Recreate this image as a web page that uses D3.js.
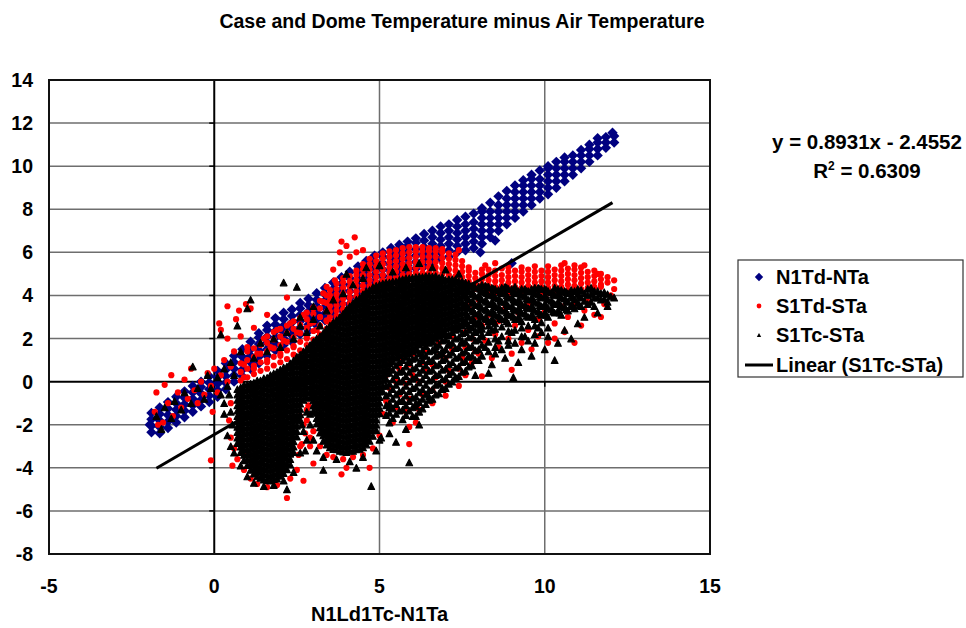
<!DOCTYPE html>
<html><head><meta charset="utf-8">
<script src="https://cdn.jsdelivr.net/npm/d3@7"></script>
<style>
body{margin:0;background:#fff;}
text{font-family:"Liberation Sans",Arial,sans-serif;font-weight:bold;fill:#000;}
</style></head><body>
<svg id="chart" width="966" height="628"></svg>
<script>
const chartTitle = "Case and Dome Temperature minus Air Temperature";
const xAxisTitle = "N1Ld1Tc-N1Ta";
const xTicks = [-5, 0, 5, 10, 15];
const yTicks = [14, 12, 10, 8, 6, 4, 2, 0, -2, -4, -6, -8];
const seriesNames = ["N1Td-NTa", "S1Td-STa", "S1Tc-STa", "Linear (S1Tc-STa)"];
const trendSlope = 0.8931, trendIntercept = -2.4552, trendR2 = 0.6309;
const trendXRange = [-1.75, 12.05];

// Dense parts stored as columns: [x, y1, y2, ...]; sparse parts as [x, y] pairs.
const n1tdCols = [
[-1.9,-2.35,-2.05,-1.75,-1.45],[-1.65,-2.4,-2.1,-1.8,-1.5,-1.2],[-1.4,-2.15,-1.85,-1.55,-1.25,-0.95],
[-1.15,-1.9,-1.6,-1.3,-1.0,-0.7],[-0.9,-1.65,-1.35,-1.05,-0.75,-0.45],[-0.65,-1.4,-1.1,-0.8,-0.5,-0.2],
[-0.4,-1.15,-0.85,-0.55,-0.25,0.0],[-0.15,-0.95,-0.65,-0.35,-0.05,0.25],[0.1,-0.7,-0.4,-0.1,0.2,0.5],
[0.35,-0.35,-0.05,0.25,0.55,0.85],[0.6,0.0,0.3,0.6,0.9,1.2],[0.85,0.25,0.55,0.85,1.15,1.5],
[1.1,0.6,0.9,1.2,1.5,1.85],[1.35,0.85,1.15,1.45,1.75,2.05,2.25],[1.6,1.2,1.5,1.8,2.1,2.4,2.6],
[1.85,1.45,1.75,2.05,2.35,2.65,2.95],[2.1,1.7,2.0,2.3,2.6,2.9,3.2],[2.35,1.85,2.15,2.45,2.75,3.05,3.35],
[2.6,2.2,2.5,2.8,3.1,3.4,3.65],[2.85,2.35,2.65,2.95,3.25,3.55,3.85],[3.1,2.6,2.9,3.2,3.5,3.8,4.1],
[3.35,2.85,3.15,3.45,3.75,4.05,4.35],[3.6,3.1,3.4,3.7,4.0,4.3,4.6],[3.85,3.35,3.65,3.95,4.25,4.55,4.85],
[4.1,3.6,3.9,4.2,4.5,4.8,5.1],[4.35,3.85,4.15,4.45,4.75,5.05,5.35],[4.6,4.1,4.4,4.7,5.0,5.3,5.6],
[4.85,4.35,4.65,4.95,5.25,5.55,5.85],[5.1,4.6,4.9,5.2,5.5,5.8,6.0],[5.35,4.8,5.1,5.4,5.7,6.0,6.2],
[5.6,5.0,5.3,5.6,5.9,6.2,6.35],[5.85,5.1,5.4,5.7,6.0,6.3,6.5],[6.1,5.25,5.55,5.85,6.15,6.45,6.65],
[6.35,5.35,5.65,5.95,6.25,6.55,6.85],[6.6,5.5,5.8,6.1,6.4,6.7,7.0],[6.85,5.7,6.0,6.3,6.6,6.9,7.2],
[7.1,5.8,6.1,6.4,6.7,7.0,7.3],[7.35,6.0,6.3,6.6,6.9,7.2,7.5],[7.6,6.1,6.4,6.7,7.0,7.3,7.65],
[7.85,6.2,6.5,6.8,7.1,7.4,7.8],[8.1,6.4,6.7,7.0,7.3,7.6,7.9,8.05],[8.35,6.7,7.0,7.3,7.6,7.9,8.3],
[8.6,7.0,7.3,7.6,7.9,8.2,8.6],[8.85,7.3,7.6,7.9,8.2,8.5,8.85],[9.1,7.6,7.9,8.2,8.5,8.8,9.1],
[9.35,7.9,8.2,8.5,8.8,9.1,9.35],[9.6,8.2,8.5,8.8,9.1,9.4,9.6],[9.85,8.5,8.8,9.1,9.4,9.8],
[10.1,8.7,9.0,9.3,9.6,9.9,10.0],[10.35,9.0,9.3,9.6,9.9,10.2],[10.6,9.3,9.6,9.9,10.2,10.4],
[10.85,9.6,9.9,10.2,10.5],[11.1,9.9,10.2,10.5,10.75],[11.35,10.2,10.5,10.8,11.0],
[11.6,10.5,10.8,11.1,11.3],[11.85,10.85,11.1,11.35],[12.1,11.1,11.4]
];
const n1tdPts = [[8.5,6.55],[8.05,6.0],[9.0,5.5],[-1.95,-2.0],[12.05,11.55]];

const s1tdCols = [
[0.8,0.05,0.45,0.85],[1.0,0.2,0.6,1.0,1.4],[1.2,0.35,0.75,1.15,1.55],[1.4,0.5,0.9,1.3,1.7],
[1.6,0.6,1.0,1.4,1.8,2.1],[1.8,0.75,1.15,1.55,1.95,2.3],[2.0,0.9,1.3,1.7,2.1,2.45],
[2.2,1.05,1.45,1.85,2.25,2.6],[2.4,1.25,1.65,2.05,2.45,2.8],[2.6,1.45,1.85,2.25,2.65,2.95],
[2.8,1.7,2.1,2.5,2.9,3.2],[3.0,1.95,2.35,2.75,3.15,3.45],[3.2,2.2,2.6,3.0,3.4,3.75],
[3.4,2.45,2.85,3.25,3.65,4.0],
[3.5,2.5,2.75,3.0,3.25,3.5,3.75,4.0,4.25],[3.7,2.8,3.05,3.3,3.55,3.8,4.05,4.3,4.55],
[3.9,3.1,3.35,3.6,3.85,4.1,4.35,4.6,4.8],[4.1,3.4,3.65,3.9,4.15,4.4,4.65,4.9],
[4.3,3.7,3.95,4.2,4.45,4.7,4.95,5.15],[4.5,3.95,4.2,4.45,4.7,4.95,5.2,5.45],
[4.7,4.2,4.45,4.7,4.95,5.2,5.45,5.7],[4.9,4.35,4.6,4.85,5.1,5.35,5.6,5.85],
[5.1,4.45,4.7,4.95,5.2,5.45,5.7,5.95],[5.3,4.55,4.8,5.05,5.3,5.55,5.8,6.05],
[5.5,4.6,4.85,5.1,5.35,5.6,5.85,6.1],[5.7,4.7,4.95,5.2,5.45,5.7,5.95,6.2],
[5.9,4.75,5.0,5.25,5.5,5.75,6.0,6.25],[6.1,4.8,5.05,5.3,5.55,5.8,6.05,6.25],
[6.3,4.8,5.05,5.3,5.55,5.8,6.05,6.25],[6.5,4.8,5.05,5.3,5.55,5.8,6.05,6.2],
[6.7,4.8,5.05,5.3,5.55,5.8,6.05,6.2],[6.9,4.75,5.0,5.25,5.5,5.75,6.0,6.15],
[7.1,4.7,4.95,5.2,5.45,5.7,5.95],[7.3,4.65,4.9,5.15,5.4,5.65,5.9],[7.5,4.6,4.85,5.1,5.35,5.6],
[7.7,4.4,4.65,4.9,5.15],[7.9,4.3,4.55,4.8,5.05],[8.1,4.25,4.5,4.75,5.0,5.2],
[8.3,4.2,4.45,4.7,4.95,5.2],[8.5,4.15,4.4,4.65,4.9,5.15],[8.7,4.2,4.45,4.7,4.95,5.25],
[8.9,4.1,4.35,4.6,4.85,5.1,5.3],[9.1,4.15,4.4,4.65,4.9,5.15],[9.3,4.1,4.35,4.6,4.85,5.1,5.3],
[9.5,4.2,4.45,4.7,4.95,5.2],[9.7,4.1,4.35,4.6,4.85,5.1,5.35],[9.9,4.15,4.4,4.65,4.9,5.15],
[10.1,4.1,4.35,4.6,4.85,5.1,5.35],[10.3,4.2,4.45,4.7,4.95,5.2],[10.5,4.15,4.4,4.65,4.9,5.15,5.4],
[10.7,4.25,4.5,4.75,5.0,5.25],[10.9,4.2,4.45,4.7,4.95,5.2,5.4],[11.1,4.3,4.55,4.8,5.05,5.3],
[11.3,4.35,4.6,4.85,5.1],[11.5,4.4,4.65,4.9,5.15],[11.7,4.5,4.75,5.0],[11.9,4.6,4.85],[12.1,4.7]
];
const s1tdPts = [
[-1.8,-1.4],[-1.75,-0.5],[-1.7,-2.0],[-1.5,-0.15],[-1.55,-1.9],[-1.4,-1.0],[-1.3,0.3],[-1.25,-1.6],
[-1.1,-0.5],[-1.0,-1.2],[-0.9,0.1],[-0.8,-0.8],[-0.7,0.6],[-0.6,-0.4],[-0.5,-1.0],[-0.4,0.0],
[-0.3,-0.6],[-0.2,0.4],[-0.1,-0.2],[0.0,0.6],[0.1,-0.5],[0.2,0.3],[0.3,1.0],[0.4,0.0],[0.5,0.7],
[0.15,2.7],[0.4,3.5],[0.75,3.3],[0.96,3.6],[1.1,3.4],[0.66,2.9],[0.2,2.4],[0.4,2.0],[0.8,2.1],
[1.2,2.5],[1.6,3.1],[2.2,3.9],[0.6,1.4],[0.9,0.8],[1.0,1.6],[1.2,0.6],[1.3,1.3],[1.5,2.0],
[1.6,0.9],[1.7,1.6],[1.9,2.4],[2.0,1.2],[2.1,1.9],[2.3,2.7],[2.4,1.6],[2.5,2.3],[2.7,3.1],
[2.8,2.0],[2.9,2.7],[3.0,3.4],[3.1,2.4],[3.2,3.0],[3.3,3.7],[3.4,2.8],[3.3,4.1],[1.1,-0.4],
[0.9,0.2],[3.4,4.4],[3.65,4.7],
[3.85,6.5],[4.25,6.7],[4.0,6.3],[4.3,6.0],[4.5,6.1],[3.8,5.5],[3.6,5.2],[4.1,5.8],[3.8,6.0],
[0.5,-1.0],[0.45,-1.8],[0.5,-2.6],[0.6,-3.1],[0.7,-3.6],[0.9,-4.1],[1.1,-4.5],[1.3,-4.75],
[1.6,-4.9],[1.9,-4.8],[2.2,-5.4],[2.3,-4.5],[2.5,-4.1],[2.6,-3.0],[2.7,-2.0],[2.8,-1.3],
[2.9,-2.6],[3.0,-2.3],[3.2,-3.0],[3.4,-3.4],[3.6,-3.5],[3.9,-3.6],[4.2,-3.5],[4.5,-3.4],
[4.8,-3.1],[5.0,-2.5],[5.9,-2.1],[4.0,-4.0],[3.0,-3.8],[1.0,-3.4],[-0.05,-1.4],[-0.1,-3.65],
[5.9,-2.9],[4.7,-4.0],[3.85,-4.3],[2.7,-4.6],[0.55,-3.9],
[2.6,-1.6],[2.75,-2.4],[2.85,-1.1],[2.65,-2.9],[2.9,-3.0],[2.8,-1.8],[2.55,-3.4],
[5.1,-1.5],[5.2,-0.9],[5.3,-0.3],[5.2,0.3],[5.35,0.9],[5.4,-1.9],[5.5,-1.2],[5.6,-0.6],
[5.5,0.0],[5.6,0.6],[5.7,1.1],[5.8,-1.4],[5.9,-0.8],[5.8,-0.1],[6.0,0.3],[5.9,0.8],[6.0,1.3],
[6.1,-1.9],[6.2,-1.3],[6.3,-0.6],[6.2,0.0],[6.4,0.5],[6.3,0.9],[6.4,1.5],[6.6,-1.0],[6.6,-0.4],
[6.7,0.2],[6.6,0.8],[6.8,1.2],[6.8,1.8],[7.0,-0.65],[7.0,0.0],[7.1,0.5],[7.0,1.1],[7.2,1.5],
[7.2,2.1],[7.4,-0.2],[7.4,0.6],[7.5,1.1],[7.6,1.6],[7.6,2.3],[7.8,0.9],[7.8,2.0],[7.9,1.4],
[7.6,0.3],[8.1,0.25],[8.0,1.3],[8.2,1.9],[8.1,2.6],[8.3,3.1],[8.4,1.1],[8.5,2.2],[8.6,2.8],
[8.6,1.6],[8.8,3.4],[8.9,2.0],[9.0,0.55],[9.0,1.3],[9.1,2.6],[9.2,3.2],[9.3,1.8],[9.5,2.4],
[9.5,3.6],[9.6,1.5],[9.8,2.9],[9.8,2.1],[10.0,3.3],[10.1,1.8],[10.3,2.0],[10.3,2.7],[10.5,3.5],
[10.6,2.3],[10.7,3.0],[10.9,1.8],[10.9,3.6],[11.1,2.6],[11.2,3.3],[11.3,3.7],[11.5,3.1],
[11.7,3.0],[11.8,3.6],[12.0,4.0],[11.7,4.4],[12.1,4.3],[10.6,5.5],[11.2,5.4],[11.6,5.0],
[7.7,3.5],[7.9,3.0],[8.0,3.8],[7.7,5.3],[8.2,5.4],[8.5,5.5],[7.4,6.1]
];

const s1tcCols = [
[0.7,-2.85,-2.6,-2.35,-2.1,-1.85,-1.6,-1.35,-1.1,-0.85,-0.6,-0.35],
[0.8,-3.27,-3.02,-2.77,-2.52,-2.27,-2.02,-1.77,-1.52,-1.27,-1.02,-0.77,-0.52,-0.27],
[0.9,-3.65,-3.4,-3.15,-2.9,-2.65,-2.4,-2.15,-1.9,-1.65,-1.4,-1.15,-0.9,-0.65,-0.4,-0.15],
[1.0,-3.88,-3.63,-3.38,-3.13,-2.88,-2.63,-2.38,-2.13,-1.88,-1.63,-1.38,-1.13,-0.88,-0.63,-0.38,-0.13],
[1.1,-4.1,-3.85,-3.6,-3.35,-3.1,-2.85,-2.6,-2.35,-2.1,-1.85,-1.6,-1.35,-1.1,-0.85,-0.6,-0.35,-0.1],
[1.2,-4.27,-4.02,-3.77,-3.52,-3.27,-3.02,-2.77,-2.52,-2.27,-2.02,-1.77,-1.52,-1.27,-1.02,-0.77,-0.52,-0.27,-0.05],
[1.3,-4.4,-4.15,-3.9,-3.65,-3.4,-3.15,-2.9,-2.65,-2.4,-2.15,-1.9,-1.65,-1.4,-1.15,-0.9,-0.65,-0.4,-0.15,0.05],
[1.4,-4.47,-4.22,-3.97,-3.72,-3.47,-3.22,-2.97,-2.72,-2.47,-2.22,-1.97,-1.72,-1.47,-1.22,-0.97,-0.72,-0.47,-0.22,0.05],
[1.5,-4.55,-4.3,-4.05,-3.8,-3.55,-3.3,-3.05,-2.8,-2.55,-2.3,-2.05,-1.8,-1.55,-1.3,-1.05,-0.8,-0.55,-0.3,-0.05,0.15],
[1.6,-4.57,-4.32,-4.07,-3.82,-3.57,-3.32,-3.07,-2.82,-2.57,-2.32,-2.07,-1.82,-1.57,-1.32,-1.07,-0.82,-0.57,-0.32,-0.07,0.18],
[1.7,-4.6,-4.35,-4.1,-3.85,-3.6,-3.35,-3.1,-2.85,-2.6,-2.35,-2.1,-1.85,-1.6,-1.35,-1.1,-0.85,-0.6,-0.35,-0.1,0.15,0.3],
[1.8,-4.53,-4.28,-4.03,-3.78,-3.53,-3.28,-3.03,-2.78,-2.53,-2.28,-2.03,-1.78,-1.53,-1.28,-1.03,-0.78,-0.53,-0.28,-0.03,0.22,0.38],
[1.9,-4.5,-4.25,-4.0,-3.75,-3.5,-3.25,-3.0,-2.75,-2.5,-2.25,-2.0,-1.75,-1.5,-1.25,-1.0,-0.75,-0.5,-0.25,0.0,0.25,0.45],
[2.0,-4.37,-4.12,-3.87,-3.62,-3.37,-3.12,-2.87,-2.62,-2.37,-2.12,-1.87,-1.62,-1.37,-1.12,-0.87,-0.62,-0.37,-0.12,0.13,0.38,0.55],
[2.1,-4.25,-4.0,-3.75,-3.5,-3.25,-3.0,-2.75,-2.5,-2.25,-2.0,-1.75,-1.5,-1.25,-1.0,-0.75,-0.5,-0.25,0.0,0.25,0.5,0.65],
[2.2,-4.07,-3.82,-3.57,-3.32,-3.07,-2.82,-2.57,-2.32,-2.07,-1.82,-1.57,-1.32,-1.07,-0.82,-0.57,-0.32,-0.07,0.18,0.43,0.7],
[2.3,-3.85,-3.6,-3.35,-3.1,-2.85,-2.6,-2.35,-2.1,-1.85,-1.6,-1.35,-1.1,-0.85,-0.6,-0.35,-0.1,0.15,0.4,0.65,0.85],
[2.4,-3.27,-3.02,-2.77,-2.52,-2.27,-2.02,-1.77,-1.52,-1.27,-1.02,-0.77,-0.52,-0.27,-0.02,0.23,0.48,0.73,0.98],
[2.5,-2.55,-2.3,-2.05,-1.8,-1.55,-1.3,-1.05,-0.8,-0.55,-0.3,-0.05,0.2,0.45,0.7,0.95,1.15],
[2.6,-1.77,-1.52,-1.27,-1.02,-0.77,-0.52,-0.27,-0.02,0.23,0.48,0.73,0.98,1.25],
[2.7,-0.85,-0.6,-0.35,-0.1,0.15,0.4,0.65,0.9,1.15,1.4],
[2.8,-0.73,-0.48,-0.23,0.02,0.27,0.52,0.77,1.02,1.27,1.52],
[2.9,-0.75,-0.5,-0.25,0.0,0.25,0.5,0.75,1.0,1.25,1.5,1.7],
[3.0,-1.37,-1.12,-0.87,-0.62,-0.37,-0.12,0.13,0.38,0.63,0.88,1.13,1.38,1.63,1.85],
[3.1,-1.95,-1.7,-1.45,-1.2,-0.95,-0.7,-0.45,-0.2,0.05,0.3,0.55,0.8,1.05,1.3,1.55,1.8,2.0],
[3.2,-2.37,-2.12,-1.87,-1.62,-1.37,-1.12,-0.87,-0.62,-0.37,-0.12,0.13,0.38,0.63,0.88,1.13,1.38,1.63,1.88,2.1],
[3.3,-2.75,-2.5,-2.25,-2.0,-1.75,-1.5,-1.25,-1.0,-0.75,-0.5,-0.25,0.0,0.25,0.5,0.75,1.0,1.25,1.5,1.75,2.0,2.25],
[3.4,-2.93,-2.68,-2.43,-2.18,-1.93,-1.68,-1.43,-1.18,-0.93,-0.68,-0.43,-0.18,0.07,0.32,0.57,0.82,1.07,1.32,1.57,1.82,2.07,2.32,2.45],
[3.5,-3.05,-2.8,-2.55,-2.3,-2.05,-1.8,-1.55,-1.3,-1.05,-0.8,-0.55,-0.3,-0.05,0.2,0.45,0.7,0.95,1.2,1.45,1.7,1.95,2.2,2.45,2.6],
[3.6,-3.13,-2.88,-2.63,-2.38,-2.13,-1.88,-1.63,-1.38,-1.13,-0.88,-0.63,-0.38,-0.13,0.12,0.37,0.62,0.87,1.12,1.37,1.62,1.87,2.12,2.37,2.62,2.75],
[3.7,-3.15,-2.9,-2.65,-2.4,-2.15,-1.9,-1.65,-1.4,-1.15,-0.9,-0.65,-0.4,-0.15,0.1,0.35,0.6,0.85,1.1,1.35,1.6,1.85,2.1,2.35,2.6,2.85],
[3.8,-3.22,-2.97,-2.72,-2.47,-2.22,-1.97,-1.72,-1.47,-1.22,-0.97,-0.72,-0.47,-0.22,0.03,0.28,0.53,0.78,1.03,1.28,1.53,1.78,2.03,2.28,2.53,2.78,3.0],
[3.9,-3.25,-3.0,-2.75,-2.5,-2.25,-2.0,-1.75,-1.5,-1.25,-1.0,-0.75,-0.5,-0.25,0.0,0.25,0.5,0.75,1.0,1.25,1.5,1.75,2.0,2.25,2.5,2.75,3.0,3.15],
[4.0,-3.27,-3.02,-2.77,-2.52,-2.27,-2.02,-1.77,-1.52,-1.27,-1.02,-0.77,-0.52,-0.27,-0.02,0.23,0.48,0.73,0.98,1.23,1.48,1.73,1.98,2.23,2.48,2.73,2.98,3.23,3.35],
[4.1,-3.2,-2.95,-2.7,-2.45,-2.2,-1.95,-1.7,-1.45,-1.2,-0.95,-0.7,-0.45,-0.2,0.05,0.3,0.55,0.8,1.05,1.3,1.55,1.8,2.05,2.3,2.55,2.8,3.05,3.3,3.5],
[4.2,-3.22,-2.97,-2.72,-2.47,-2.22,-1.97,-1.72,-1.47,-1.22,-0.97,-0.72,-0.47,-0.22,0.03,0.28,0.53,0.78,1.03,1.28,1.53,1.78,2.03,2.28,2.53,2.78,3.03,3.28,3.53,3.65],
[4.3,-3.15,-2.9,-2.65,-2.4,-2.15,-1.9,-1.65,-1.4,-1.15,-0.9,-0.65,-0.4,-0.15,0.1,0.35,0.6,0.85,1.1,1.35,1.6,1.85,2.1,2.35,2.6,2.85,3.1,3.35,3.6,3.8],
[4.4,-3.12,-2.87,-2.62,-2.37,-2.12,-1.87,-1.62,-1.37,-1.12,-0.87,-0.62,-0.37,-0.12,0.13,0.38,0.63,0.88,1.13,1.38,1.63,1.88,2.13,2.38,2.63,2.88,3.13,3.38,3.63,3.88],
[4.5,-3.05,-2.8,-2.55,-2.3,-2.05,-1.8,-1.55,-1.3,-1.05,-0.8,-0.55,-0.3,-0.05,0.2,0.45,0.7,0.95,1.2,1.45,1.7,1.95,2.2,2.45,2.7,2.95,3.2,3.45,3.7,3.95,4.05],
[4.6,-2.92,-2.67,-2.42,-2.17,-1.92,-1.67,-1.42,-1.17,-0.92,-0.67,-0.42,-0.17,0.08,0.33,0.58,0.83,1.08,1.33,1.58,1.83,2.08,2.33,2.58,2.83,3.08,3.33,3.58,3.83,4.08,4.18],
[4.7,-2.75,-2.5,-2.25,-2.0,-1.75,-1.5,-1.25,-1.0,-0.75,-0.5,-0.25,0.0,0.25,0.5,0.75,1.0,1.25,1.5,1.75,2.0,2.25,2.5,2.75,3.0,3.25,3.5,3.75,4.0,4.25],
[4.8,-2.52,-2.27,-2.02,-1.77,-1.52,-1.27,-1.02,-0.77,-0.52,-0.27,-0.02,0.23,0.48,0.73,0.98,1.23,1.48,1.73,1.98,2.23,2.48,2.73,2.98,3.23,3.48,3.73,3.98,4.23,4.38],
[4.9,-2.25,-2.0,-1.75,-1.5,-1.25,-1.0,-0.75,-0.5,-0.25,0.0,0.25,0.5,0.75,1.0,1.25,1.5,1.75,2.0,2.25,2.5,2.75,3.0,3.25,3.5,3.75,4.0,4.25,4.45],
[5.0,-1.47,-1.22,-0.97,-0.72,-0.47,-0.22,0.03,0.28,0.53,0.78,1.03,1.28,1.53,1.78,2.03,2.28,2.53,2.78,3.03,3.28,3.53,3.78,4.03,4.28,4.5],
[5.1,-0.45,-0.2,0.05,0.3,0.55,0.8,1.05,1.3,1.55,1.8,2.05,2.3,2.55,2.8,3.05,3.3,3.55,3.8,4.05,4.3,4.55],
[5.2,0.13,0.38,0.63,0.88,1.13,1.38,1.63,1.88,2.13,2.38,2.63,2.88,3.13,3.38,3.63,3.88,4.13,4.38,4.6],
[5.3,0.6,0.85,1.1,1.35,1.6,1.85,2.1,2.35,2.6,2.85,3.1,3.35,3.6,3.85,4.1,4.35,4.6],
[5.4,0.93,1.18,1.43,1.68,1.93,2.18,2.43,2.68,2.93,3.18,3.43,3.68,3.93,4.18,4.43,4.65],
[5.5,1.1,1.35,1.6,1.85,2.1,2.35,2.6,2.85,3.1,3.35,3.6,3.85,4.1,4.35,4.65],
[5.6,1.23,1.48,1.73,1.98,2.23,2.48,2.73,2.98,3.23,3.48,3.73,3.98,4.23,4.48,4.72],
[5.7,1.3,1.55,1.8,2.05,2.3,2.55,2.8,3.05,3.3,3.55,3.8,4.05,4.3,4.55,4.75],
[5.8,1.42,1.67,1.92,2.17,2.42,2.67,2.92,3.17,3.42,3.67,3.92,4.17,4.42,4.67,4.8],
[5.9,1.5,1.75,2.0,2.25,2.5,2.75,3.0,3.25,3.5,3.75,4.0,4.25,4.5,4.8],
[6.0,1.57,1.82,2.07,2.32,2.57,2.82,3.07,3.32,3.57,3.82,4.07,4.32,4.57,4.82],
[6.1,1.6,1.85,2.1,2.35,2.6,2.85,3.1,3.35,3.6,3.85,4.1,4.35,4.6,4.85],
[6.2,1.72,1.97,2.22,2.47,2.72,2.97,3.22,3.47,3.72,3.97,4.22,4.47,4.72,4.88],
[6.3,1.8,2.05,2.3,2.55,2.8,3.05,3.3,3.55,3.8,4.05,4.3,4.55,4.85],
[6.4,1.92,2.17,2.42,2.67,2.92,3.17,3.42,3.67,3.92,4.17,4.42,4.67,4.9],
[6.5,2.0,2.25,2.5,2.75,3.0,3.25,3.5,3.75,4.0,4.25,4.5,4.75,4.9],
[6.6,2.12,2.37,2.62,2.87,3.12,3.37,3.62,3.87,4.12,4.37,4.62,4.88],
[6.7,2.2,2.45,2.7,2.95,3.2,3.45,3.7,3.95,4.2,4.45,4.7,4.9],
[6.8,2.32,2.57,2.82,3.07,3.32,3.57,3.82,4.07,4.32,4.57,4.82],
[6.9,2.4,2.65,2.9,3.15,3.4,3.65,3.9,4.15,4.4,4.65,4.85],
[7.0,2.47,2.72,2.97,3.22,3.47,3.72,3.97,4.22,4.47,4.72],
[7.1,2.5,2.75,3.0,3.25,3.5,3.75,4.0,4.25,4.5,4.75],
[7.2,2.57,2.82,3.07,3.32,3.57,3.82,4.07,4.32,4.57,4.75],
[7.3,2.6,2.85,3.1,3.35,3.6,3.85,4.1,4.35,4.6,4.75],
[7.4,2.67,2.92,3.17,3.42,3.67,3.92,4.17,4.42,4.67],
[7.5,2.7,2.95,3.2,3.45,3.7,3.95,4.2,4.45,4.65],
[7.6,2.8,3.2,3.6,4.0,4.4,4.6],[7.7,2.6,3.0,3.4,3.8,4.2,4.55],[7.8,2.9,3.3,3.7,4.1,4.45],
[7.9,2.75,3.15,3.55,3.95,4.35],[8.0,2.8,3.2,3.6,4.0,4.4],[8.1,2.6,3.0,3.4,3.8,4.2,4.5],
[8.2,2.95,3.35,3.75,4.15,4.45],[8.3,2.8,3.2,3.6,4.0,4.4],[8.4,2.9,3.3,3.7,4.1,4.35],
[8.5,2.7,3.1,3.5,3.9,4.3],[8.6,3.05,3.45,3.85,4.25],[8.7,2.9,3.3,3.7,4.1,4.35],
[8.8,2.9,3.3,3.7,4.1,4.4],[8.9,2.7,3.1,3.5,3.9,4.3],[9.0,3.1,3.5,3.9,4.3],
[9.1,2.9,3.3,3.7,4.1,4.4],[9.2,3.0,3.4,3.8,4.2],[9.3,2.8,3.2,3.6,4.0,4.3],
[9.4,3.15,3.55,3.95,4.3],[9.5,3.0,3.4,3.8,4.2],[9.6,3.1,3.5,3.9,4.3],
[9.7,2.9,3.3,3.7,4.1,4.35],[9.8,3.25,3.65,4.05,4.35],[9.9,3.1,3.5,3.9,4.3],
[10.0,3.2,3.6,4.0,4.3],[10.1,3.0,3.4,3.8,4.2],[10.2,3.35,3.75,4.15],[10.3,3.2,3.6,4.0,4.35],
[10.4,3.3,3.7,4.1,4.3],[10.5,3.1,3.5,3.9,4.25],[10.6,3.45,3.85,4.2],[10.7,3.3,3.7,4.1],
[10.8,3.55,3.95,4.25],[10.9,3.4,3.8,4.2],[11.0,3.65,4.05,4.3],[11.1,3.5,3.9,4.25],
[11.2,3.75,4.1],[11.3,3.6,4.0,4.3],[11.4,3.7,4.05,4.35],[11.5,3.5,3.9,4.2],
[11.6,3.9,4.2],[11.7,3.8,4.1],[11.8,3.85,4.15],[11.9,3.7,4.05],[12.0,3.95],
[7.65,2.7,3.1,3.5,3.9,4.3],[7.85,2.85,3.25,3.65,4.05,4.4],[8.05,2.7,3.1,3.5,3.9,4.3],
[8.25,2.9,3.3,3.7,4.1,4.4],[8.45,2.8,3.2,3.6,4.0,4.3],[8.65,2.95,3.35,3.75,4.15],
[8.85,2.8,3.2,3.6,4.0,4.35],[9.05,3.0,3.4,3.8,4.2],[9.25,2.9,3.3,3.7,4.1],
[9.45,3.05,3.45,3.85,4.2],[9.65,3.0,3.4,3.8,4.2],[9.85,3.15,3.55,3.95,4.3],
[10.05,3.1,3.5,3.9,4.25],[10.25,3.25,3.65,4.05],[10.45,3.2,3.6,4.0],[10.65,3.35,3.75,4.15],
[10.85,3.5,3.9],[11.05,3.55,3.95],
[5.2,-1.55,-1.1,-0.65,-0.2],[5.3,-1.9,-1.45,-1.0,-0.55,-0.1,0.4],
[5.4,-1.7,-1.25,-0.8,-0.35,0.1,0.55],[5.5,-1.5,-1.05,-0.6,-0.15,0.3,0.75],
[5.6,-1.35,-0.9,-0.45,0.0,0.45,0.9],[5.7,-1.75,-1.3,-0.85,-0.4,0.05,0.5,1.0],
[5.8,-1.55,-1.1,-0.65,-0.2,0.25,0.7,1.15],[5.9,-1.35,-0.9,-0.45,0.0,0.45,0.9,1.3],
[6.0,-1.2,-0.75,-0.3,0.15,0.6,1.05,1.4],[6.1,-1.6,-1.15,-0.7,-0.25,0.2,0.65,1.1,1.45],
[6.2,-1.4,-0.95,-0.5,-0.05,0.4,0.85,1.3],[6.3,-1.25,-0.8,-0.35,0.1,0.55,1.0,1.45],
[6.4,-1.05,-0.6,-0.15,0.3,0.75,1.2,1.65],[6.5,-0.85,-0.4,0.05,0.5,0.95,1.4,1.8],
[6.6,-0.8,-0.35,0.1,0.55,1.0,1.45,1.85],[6.7,-0.6,-0.15,0.3,0.75,1.2,1.65,2.0],
[6.8,-0.55,-0.1,0.35,0.8,1.25,1.7,2.1],[6.9,-0.35,0.1,0.55,1.0,1.45,1.9,2.2],
[7.0,-0.3,0.15,0.6,1.05,1.5,1.95,2.25],[7.1,-0.1,0.35,0.8,1.25,1.7,2.15],
[7.2,0.0,0.45,0.9,1.35,1.8,2.3],[7.3,0.2,0.65,1.1,1.55,2.0,2.4],
[7.4,0.25,0.7,1.15,1.6,2.05,2.45],[7.5,0.45,0.9,1.35,1.8,2.25,2.6],
[7.6,0.5,0.95,1.4,1.85,2.3],[7.7,0.7,1.15,1.6,2.05,2.4],[7.8,0.75,1.2,1.65,2.1,2.5],
[7.9,1.0,1.45,1.9,2.35,2.65],[8.0,1.5,1.95,2.4],[8.1,1.2,1.7,2.1,2.45],[8.3,1.4,1.85,2.3,2.6],
[8.5,1.6,2.0,2.45],[8.7,1.5,2.1,2.55],[8.9,1.9,2.35],[9.1,1.8,2.4],[9.3,2.1,2.5],
[9.5,1.9,2.6],[9.7,2.2,2.6],[9.9,2.3,2.75],[10.1,2.5]
];
const s1tcPts = [
[-1.75,-1.6],[-1.6,-2.2],[-1.5,-1.2],[-1.3,-1.7],[-1.2,-0.9],[-1.0,-1.3],[-0.9,-0.5],[-0.7,-1.0],
[-0.65,0.7],[-0.5,-0.3],[-0.3,-0.8],[-0.2,0.3],[-0.1,-0.3],[0.1,0.2],[0.2,-0.6],[0.3,0.6],
[0.4,-0.2],[0.5,0.9],[0.6,0.3],[0.2,2.2],[0.7,2.6],[1.0,3.4],[1.1,3.8],[2.1,4.6],[2.5,4.4],
[0.8,1.4],[1.2,1.1],[1.4,1.8],[1.6,1.4],[1.8,2.0],[2.0,1.6],[2.2,2.3],[2.4,2.0],[2.6,2.6],
[2.8,2.3],[3.0,2.9],[3.2,2.6],[3.4,3.3],[3.6,3.8],[3.0,3.5],[2.6,3.0],[3.9,4.1],[4.2,4.5],
[4.5,4.8],[4.0,5.0],[4.6,5.3],[5.0,5.4],[5.4,5.1],[5.8,5.3],[6.2,5.5],[6.6,5.3],[7.0,5.2],
[7.4,5.0],[0.3,-1.5],[0.4,-2.5],[0.5,-3.0],[0.3,-1.0],[0.55,-2.0],[0.5,-1.4],[0.45,-0.6],
[0.6,-3.3],[0.8,-3.9],[1.0,-4.4],[1.2,-4.7],[1.5,-4.85],[1.8,-4.8],[2.1,-4.6],[2.2,-5.0],
[2.4,-4.2],[2.6,-3.3],[2.7,-2.3],[2.8,-1.4],[3.0,-2.7],[3.1,-3.2],[3.3,-3.5],[3.3,-4.1],
[3.7,-3.6],[4.1,-3.7],[4.5,-3.5],[4.75,-4.85],[4.9,-3.2],[5.0,-2.7],[5.9,-3.75],[4.3,-4.0],
[2.9,-2.0],[2.65,-2.0],[2.8,-2.7],[2.9,-1.5],[2.75,-3.2],
[5.3,-1.2],[5.5,0.3],[5.7,-0.9],[5.7,0.5],[5.9,1.0],[5.8,-2.2],[6.0,-1.6],[6.1,-1.0],
[6.3,1.2],[6.5,-0.7],[6.5,1.0],[6.7,1.5],[6.9,-0.3],[6.9,1.3],[7.1,1.8],[7.3,0.2],
[7.5,1.9],[7.7,1.2],[7.9,2.3],[5.05,-2.6],[5.3,-2.4],[6.2,-2.0],[5.5,-2.8],
[8.0,1.0],[8.2,1.6],[8.1,2.2],[8.4,0.8],[8.5,1.3],[8.6,1.9],[8.4,2.4],[8.8,1.1],[8.9,1.7],
[9.0,2.3],[9.2,0.9],[9.3,1.5],[9.4,2.1],[9.6,1.2],[9.7,1.8],[9.8,2.5],[10.0,1.5],[10.1,2.1],
[10.3,1.0],[10.4,1.8],[10.6,2.4],[10.8,2.0],[11.0,2.7],[11.2,3.0],[11.6,3.2],[11.9,3.5],
[12.1,3.9],[9.05,0.2],[8.3,0.4],[7.9,0.3]
];

const W = 966, H = 628;
const plotL = 49, plotR = 710, plotT = 80, plotB = 554;
const svg = d3.select("#chart");
const x = d3.scaleLinear().domain([-5, 15]).range([plotL, plotR]);
const y = d3.scaleLinear().domain([-8, 14]).range([plotB, plotT]);

function expand(cols) {
  const out = [];
  cols.forEach(c => { for (let i = 1; i < c.length; i++) out.push([c[0], c[i]]); });
  return out;
}
const blueData = expand(n1tdCols).concat(n1tdPts);
const redData = expand(s1tdCols).concat(s1tdPts);
const blackData = expand(s1tcCols).concat(s1tcPts);

svg.append("rect").attr("x", 0).attr("y", 0).attr("width", W).attr("height", H).attr("fill", "#fff");

// gridlines
const grid = svg.append("g");
yTicks.filter(v => v !== 14 && v !== -8 && v !== 0).forEach(v => {
  grid.append("line").attr("x1", plotL).attr("x2", plotR).attr("y1", y(v)).attr("y2", y(v))
    .attr("stroke", "#6e6e6e").attr("stroke-width", 1.5);
});
xTicks.filter(v => v !== -5 && v !== 15 && v !== 0).forEach(v => {
  grid.append("line").attr("y1", plotT).attr("y2", plotB).attr("x1", x(v)).attr("x2", x(v))
    .attr("stroke", "#6e6e6e").attr("stroke-width", 1.5);
});

// axes through zero
svg.append("line").attr("x1", x(0)).attr("x2", x(0)).attr("y1", plotT).attr("y2", plotB)
  .attr("stroke", "#000").attr("stroke-width", 2);
svg.append("line").attr("x1", plotL).attr("x2", plotR).attr("y1", y(0)).attr("y2", y(0))
  .attr("stroke", "#000").attr("stroke-width", 2);
yTicks.forEach(v => {
  svg.append("line").attr("x1", x(0) - 5).attr("x2", x(0)).attr("y1", y(v)).attr("y2", y(v))
    .attr("stroke", "#000").attr("stroke-width", 1.5);
});
xTicks.forEach(v => {
  svg.append("line").attr("x1", x(v)).attr("x2", x(v)).attr("y1", y(0)).attr("y2", y(0) + 5)
    .attr("stroke", "#000").attr("stroke-width", 1.5);
});

// border
svg.append("rect").attr("x", plotL).attr("y", plotT).attr("width", plotR - plotL).attr("height", plotB - plotT)
  .attr("fill", "none").attr("stroke", "#111").attr("stroke-width", 2);

// points
const diamond = h => `M0,${-h}L${h},0L0,${h}L${-h},0Z`;
const tri = (b, t) => `M0,${-t}L${b},${t}L${-b},${t}Z`;
const pts = svg.append("g");
pts.selectAll("path.blue").data(blueData).join("path").attr("class", "blue")
  .attr("d", diamond(5.2)).attr("fill", "#000080")
  .attr("transform", d => `translate(${x(d[0])},${y(d[1])})`);
pts.selectAll("circle.red").data(redData).join("circle").attr("class", "red")
  .attr("r", 3.1).attr("fill", "#ff0000")
  .attr("cx", d => x(d[0])).attr("cy", d => y(d[1]));
pts.selectAll("path.black").data(blackData).join("path").attr("class", "black")
  .attr("d", tri(3.4, 3.3)).attr("fill", "#000").attr("stroke", "#000").attr("stroke-width", 1.1)
  .attr("stroke-linejoin", "round")
  .attr("transform", d => `translate(${x(d[0])},${y(d[1])})`);

// trendline
const trendData = trendXRange.map(v => [v, trendSlope * v + trendIntercept]);
svg.append("path").datum(trendData)
  .attr("d", d3.line().x(d => x(d[0])).y(d => y(d[1])))
  .attr("stroke", "#000").attr("stroke-width", 3).attr("fill", "none");

// tick labels
svg.append("g").selectAll("text").data(yTicks).join("text")
  .attr("x", 33).attr("y", d => y(d)).attr("dy", "0.36em").attr("text-anchor", "end")
  .attr("font-size", 19.5).text(d => d);
svg.append("g").selectAll("text").data(xTicks).join("text")
  .attr("x", d => x(d)).attr("y", 593).attr("text-anchor", "middle")
  .attr("font-size", 19.5).text(d => d);

// titles
svg.append("text").attr("x", 462).attr("y", 28).attr("text-anchor", "middle")
  .attr("font-size", 19.5).text(chartTitle);
svg.append("text").attr("x", (plotL + plotR) / 2).attr("y", 621).attr("text-anchor", "middle")
  .attr("font-size", 20).text(xAxisTitle);

// equation
svg.append("text").attr("x", 867).attr("y", 149).attr("text-anchor", "middle").attr("font-size", 20.5)
  .text(`y = ${trendSlope}x - ${Math.abs(trendIntercept)}`);
const r2 = svg.append("text").attr("x", 867).attr("y", 178).attr("text-anchor", "middle").attr("font-size", 20.5);
r2.append("tspan").text("R");
r2.append("tspan").attr("dy", -8).attr("font-size", 12).text("2");
r2.append("tspan").attr("dy", 8).text(` = ${trendR2}`);

// legend
const lg = svg.append("g");
lg.append("rect").attr("x", 738).attr("y", 260).attr("width", 225).attr("height", 117)
  .attr("fill", "#fff").attr("stroke", "#333").attr("stroke-width", 1.2);
const rowY = [277, 306, 335, 365];
lg.append("path").attr("d", diamond(4.2)).attr("fill", "#000080").attr("transform", `translate(759,${rowY[0]})`);
lg.append("circle").attr("r", 2.4).attr("fill", "#ff0000").attr("cx", 759).attr("cy", rowY[1]);
lg.append("path").attr("d", tri(2.2, 2)).attr("fill", "#000").attr("transform", `translate(759,${rowY[2]})`);
lg.append("line").attr("x1", 745).attr("x2", 773).attr("y1", rowY[3]).attr("y2", rowY[3])
  .attr("stroke", "#000").attr("stroke-width", 3);
lg.selectAll("text.leg").data(seriesNames).join("text").attr("class", "leg")
  .attr("x", 776).attr("y", (d, i) => rowY[i]).attr("dy", "0.36em").attr("font-size", 20).text(d => d);
</script>
</body></html>
